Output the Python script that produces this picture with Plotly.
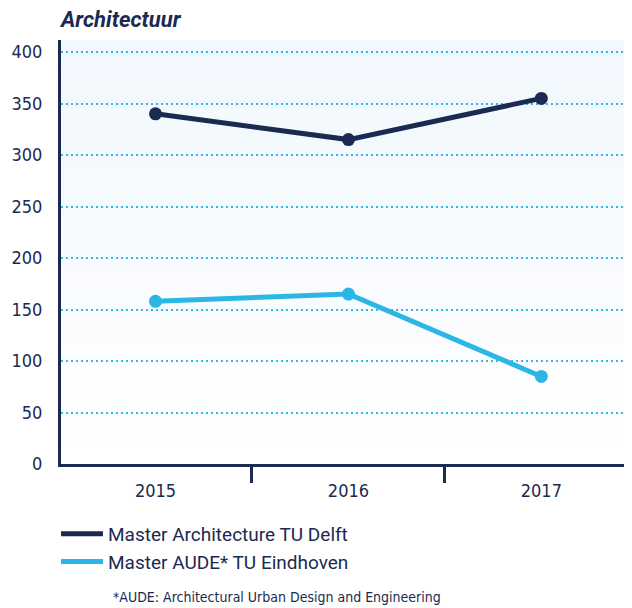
import plotly.graph_objects as go

years = ["2015", "2016", "2017"]
delft = [340, 315, 355]
eindhoven = [158, 165, 85]
y_ticks = [0, 50, 100, 150, 200, 250, 300, 350, 400]

navy = "#1b2a50"
sky = "#2cb6e6"
grid_blue = "#2db8ec"
narrow = "DejaVu Sans Condensed"

fig = go.Figure()
fig.add_trace(go.Scatter(x=years, y=delft, name="Master Architecture TU Delft",
                         mode="lines+markers", line=dict(color=navy, width=5),
                         marker=dict(size=13, color=navy), showlegend=False))
fig.add_trace(go.Scatter(x=years, y=eindhoven, name="Master AUDE* TU Eindhoven",
                         mode="lines+markers", line=dict(color=sky, width=5),
                         marker=dict(size=13, color=sky), showlegend=False))
# legend entries: line only, no marker
fig.add_trace(go.Scatter(x=[None], y=[None], name="Master Architecture TU Delft",
                         mode="lines", line=dict(color=navy, width=5)))
fig.add_trace(go.Scatter(x=[None], y=[None], name="Master AUDE* TU Eindhoven",
                         mode="lines", line=dict(color=sky, width=5)))

# soft gradient in the plot area (light blue at the top fading to white)
n = 24
shapes = []
for i in range(n):
    t = i / (n - 1)
    r = int(242 + (255 - 242) * t)
    g = int(248 + (255 - 248) * t)
    b = int(253 + (255 - 253) * t)
    shapes.append(dict(type="rect", xref="paper", yref="paper", x0=0, x1=1,
                       y0=1 - (i + 1) / n, y1=1 - i / n, line_width=0,
                       fillcolor=f"rgb({r},{g},{b})", layer="below"))

# the page body adds an 8px offset, so the figure is 8px smaller each way
W, H = 624, 600
fig.update_layout(
    width=W, height=H,
    margin=dict(l=53, r=0, t=32, b=144, autoexpand=False),
    paper_bgcolor="white", plot_bgcolor="white",
    shapes=shapes,
    font=dict(family=narrow, color=navy),
    title=dict(text="<b><i>Architectuur</i></b>", x=53 / W, xref="container",
               xanchor="left", y=1 - 4 / H, yref="container", yanchor="top",
               pad=dict(t=0, l=0),
               font=dict(family="Roboto", size=22, color=navy)),
    legend=dict(x=48 / W, xref="container", xanchor="left",
                y=1 - 507 / H, yref="container", yanchor="top",
                font=dict(family="Roboto", size=19, color=navy),
                itemwidth=42, tracegroupgap=0, bgcolor="rgba(0,0,0,0)"),
)
fig.update_xaxes(type="category", range=[-0.49, 2.47], showgrid=False,
                 showline=True, linecolor=navy, linewidth=3,
                 tickson="boundaries", ticks="outside", ticklen=16, tickwidth=2.5,
                 tickcolor=navy, ticklabelstandoff=8,
                 tickfont=dict(family=narrow, size=18, color=navy))
fig.update_yaxes(range=[0, 411.7], tickvals=y_ticks, showgrid=True,
                 gridcolor=grid_blue, griddash="2px,3px", gridwidth=2.2,
                 zeroline=False,
                 showline=True, linecolor=navy, linewidth=3, ticks="",
                 ticklabelstandoff=12,
                 tickfont=dict(family=narrow, size=18, color=navy))

fig.add_annotation(text="*AUDE: Architectural Urban Design and Engineering",
                   xref="paper", yref="paper", x=50 / 571, y=-133 / 424,
                   xanchor="left", yanchor="middle", showarrow=False,
                   font=dict(family=narrow, size=14, color=navy))

fig.write_html("out.html")
